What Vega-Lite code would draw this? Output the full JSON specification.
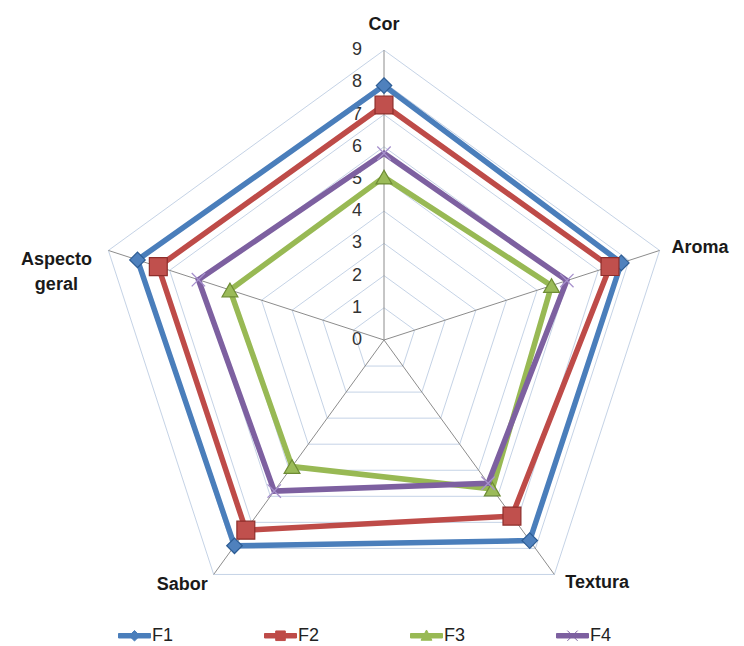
{
  "$schema": "https://vega.github.io/schema/vega-lite/v6.json",
  "width": 744,
  "height": 646,
  "padding": 0,
  "autosize": {"type": "none"},
  "background": "white",
  "config": {"view": {"stroke": null}, "font": "Liberation Sans"},
  "datasets": {
    "scores": [
      {"series": "F1", "attr": "Cor", "value": 7.9},
      {"series": "F1", "attr": "Aroma", "value": 7.75},
      {"series": "F1", "attr": "Textura", "value": 7.7},
      {"series": "F1", "attr": "Sabor", "value": 7.9},
      {"series": "F1", "attr": "Aspecto geral", "value": 8.05},
      {"series": "F2", "attr": "Cor", "value": 7.3},
      {"series": "F2", "attr": "Aroma", "value": 7.38},
      {"series": "F2", "attr": "Textura", "value": 6.76},
      {"series": "F2", "attr": "Sabor", "value": 7.3},
      {"series": "F2", "attr": "Aspecto geral", "value": 7.37},
      {"series": "F3", "attr": "Cor", "value": 5.06},
      {"series": "F3", "attr": "Aroma", "value": 5.47},
      {"series": "F3", "attr": "Textura", "value": 5.72},
      {"series": "F3", "attr": "Sabor", "value": 4.86},
      {"series": "F3", "attr": "Aspecto geral", "value": 5.03},
      {"series": "F4", "attr": "Cor", "value": 5.8},
      {"series": "F4", "attr": "Aroma", "value": 5.97},
      {"series": "F4", "attr": "Textura", "value": 5.5},
      {"series": "F4", "attr": "Sabor", "value": 5.8},
      {"series": "F4", "attr": "Aspecto geral", "value": 6.06}
    ],
    "levels": [
      {"level": 0}, {"level": 1}, {"level": 2}, {"level": 3}, {"level": 4},
      {"level": 5}, {"level": 6}, {"level": 7}, {"level": 8}, {"level": 9}
    ],
    "attrs": [
      {"attr": "Cor"}, {"attr": "Aroma"}, {"attr": "Textura"}, {"attr": "Sabor"}, {"attr": "Aspecto geral"}
    ]
  },
  "layer": [
    {
      "data": {"name": "levels"},
      "transform": [
        {"filter": "datum.level > 0"},
        {"calculate": "['Cor','Aroma','Textura','Sabor','Aspecto geral']", "as": "attrs"},
        {"flatten": ["attrs"], "as": ["attr"]},
        {"calculate": "indexof(['Cor','Aroma','Textura','Sabor','Aspecto geral'], datum.attr)", "as": "idx"},
        {"calculate": "PI/2 - datum.idx*2*PI/5", "as": "ang"},
        {"calculate": "datum.level*cos(datum.ang)", "as": "gx"},
        {"calculate": "datum.level*sin(datum.ang)", "as": "gy"}
      ],
      "mark": {"type": "line", "interpolate": "linear-closed", "stroke": "#C5D3E6", "strokeWidth": 1},
      "encoding": {
        "x": {"field": "gx", "type": "quantitative", "scale": {"domain": [-11.9255, 11.1801], "nice": false, "zero": false}, "axis": null},
        "y": {"field": "gy", "type": "quantitative", "scale": {"domain": [-9.5031, 10.559], "nice": false, "zero": false}, "axis": null},
        "detail": {"field": "level", "type": "nominal"},
        "order": {"field": "idx", "type": "quantitative"}
      }
    },
    {
      "data": {"name": "attrs"},
      "transform": [
        {"calculate": "indexof(['Cor','Aroma','Textura','Sabor','Aspecto geral'], datum.attr)", "as": "idx"},
        {"calculate": "PI/2 - datum.idx*2*PI/5", "as": "ang"},
        {"calculate": "0", "as": "cx"},
        {"calculate": "9*cos(datum.ang)", "as": "sx"},
        {"calculate": "9*sin(datum.ang)", "as": "sy"}
      ],
      "mark": {"type": "rule", "stroke": "#8C8C8C", "strokeWidth": 1},
      "encoding": {
        "x": {"field": "cx", "type": "quantitative"},
        "y": {"field": "cx", "type": "quantitative"},
        "x2": {"field": "sx"},
        "y2": {"field": "sy"}
      }
    },
    {
      "data": {"name": "levels"},
      "transform": [{"calculate": "0", "as": "cx"}],
      "mark": {"type": "text", "align": "right", "baseline": "middle", "dx": -22, "fontSize": 18, "fill": "#333333", "font": "Liberation Sans"},
      "encoding": {
        "x": {"field": "cx", "type": "quantitative"},
        "y": {"field": "level", "type": "quantitative"},
        "text": {"field": "level", "type": "nominal"}
      }
    },
    {
      "data": {"name": "scores"},
      "transform": [
        {"calculate": "indexof(['Cor','Aroma','Textura','Sabor','Aspecto geral'], datum.attr)", "as": "idx"},
        {"calculate": "PI/2 - datum.idx*2*PI/5", "as": "ang"},
        {"calculate": "datum.value*cos(datum.ang)", "as": "px"},
        {"calculate": "datum.value*sin(datum.ang)", "as": "py"}
      ],
      "mark": {"type": "line", "interpolate": "linear-closed", "strokeWidth": 5.5, "strokeJoin": "miter"},
      "encoding": {
        "x": {"field": "px", "type": "quantitative"},
        "y": {"field": "py", "type": "quantitative"},
        "color": {
          "field": "series", "type": "nominal",
          "scale": {"domain": ["F1", "F2", "F3", "F4"], "range": ["#4A7EBB", "#BE4B48", "#98B954", "#7D60A0"]},
          "legend": {
            "title": null,
            "orient": "none",
            "legendX": 118,
            "legendY": 619,
            "direction": "horizontal",
            "columns": 4,
            "columnPadding": 88,
            "symbolSize": 1024,
            "labelFontSize": 18,
            "labelFont": "Liberation Sans",
            "labelColor": "#222222",
            "labelOffset": 1,
            "labelLimit": 60,
            "encode": {
              "symbols": {
                "update": {
                  "shape": {"signal": "datum.value === 'F1' ? 'M-1,-0.14H1V0.14H-1Z M0,-0.33L0.33,0L0,0.33L-0.33,0Z' : datum.value === 'F2' ? 'M-1,-0.14H1V0.14H-1Z M-0.3,-0.3H0.3V0.3H-0.3Z' : datum.value === 'F3' ? 'M-1,-0.14H1V0.14H-1Z M0,-0.36L0.34,0.28H-0.34Z' : 'M-1,-0.14H1V0.14H-1Z M-0.32,-0.32L0.32,0.32M0.32,-0.32L-0.32,0.32'"},
                  "size": {"value": 1024},
                  "fill": {"scale": "color", "field": "value"},
                  "stroke": {"scale": "color", "field": "value"},
                  "strokeWidth": {"value": 1},
                  "opacity": {"value": 1}
                }
              }
            }
          }
        },
        "order": {"field": "idx", "type": "quantitative"}
      }
    },
    {
      "data": {"name": "scores"},
      "transform": [
        {"filter": "datum.series === 'F1'"},
        {"calculate": "indexof(['Cor','Aroma','Textura','Sabor','Aspecto geral'], datum.attr)", "as": "idx"},
        {"calculate": "PI/2 - datum.idx*2*PI/5", "as": "ang"},
        {"calculate": "datum.value*cos(datum.ang)", "as": "px"},
        {"calculate": "datum.value*sin(datum.ang)", "as": "py"}
      ],
      "mark": {"type": "point", "shape": "diamond", "size": 240, "fill": "#4F81BD", "stroke": "#2C5C94", "strokeWidth": 1.2, "opacity": 1},
      "encoding": {
        "x": {"field": "px", "type": "quantitative"},
        "y": {"field": "py", "type": "quantitative"}
      }
    },
    {
      "data": {"name": "scores"},
      "transform": [
        {"filter": "datum.series === 'F2'"},
        {"calculate": "indexof(['Cor','Aroma','Textura','Sabor','Aspecto geral'], datum.attr)", "as": "idx"},
        {"calculate": "PI/2 - datum.idx*2*PI/5", "as": "ang"},
        {"calculate": "datum.value*cos(datum.ang)", "as": "px"},
        {"calculate": "datum.value*sin(datum.ang)", "as": "py"}
      ],
      "mark": {"type": "point", "shape": "square", "size": 320, "fill": "#C0504D", "stroke": "#8E2E2B", "strokeWidth": 1.2, "opacity": 1},
      "encoding": {
        "x": {"field": "px", "type": "quantitative"},
        "y": {"field": "py", "type": "quantitative"}
      }
    },
    {
      "data": {"name": "scores"},
      "transform": [
        {"filter": "datum.series === 'F3'"},
        {"calculate": "indexof(['Cor','Aroma','Textura','Sabor','Aspecto geral'], datum.attr)", "as": "idx"},
        {"calculate": "PI/2 - datum.idx*2*PI/5", "as": "ang"},
        {"calculate": "datum.value*cos(datum.ang)", "as": "px"},
        {"calculate": "datum.value*sin(datum.ang)", "as": "py"}
      ],
      "mark": {"type": "point", "shape": "triangle-up", "size": 250, "fill": "#9BBB59", "stroke": "#6E8C35", "strokeWidth": 1.2, "opacity": 1},
      "encoding": {
        "x": {"field": "px", "type": "quantitative"},
        "y": {"field": "py", "type": "quantitative"}
      }
    },
    {
      "data": {"name": "scores"},
      "transform": [
        {"filter": "datum.series === 'F4'"},
        {"calculate": "indexof(['Cor','Aroma','Textura','Sabor','Aspecto geral'], datum.attr)", "as": "idx"},
        {"calculate": "PI/2 - datum.idx*2*PI/5", "as": "ang"},
        {"calculate": "datum.value*cos(datum.ang)", "as": "px"},
        {"calculate": "datum.value*sin(datum.ang)", "as": "py"}
      ],
      "mark": {"type": "point", "shape": "M-1,-1L1,1M1,-1L-1,1", "size": 180, "filled": false, "stroke": "#A690CC", "strokeWidth": 1.3, "opacity": 1},
      "encoding": {
        "x": {"field": "px", "type": "quantitative"},
        "y": {"field": "py", "type": "quantitative"}
      }
    },
    {
      "data": {"name": "attrs"},
      "transform": [
        {"filter": "datum.attr === 'Cor'"},
        {"calculate": "indexof(['Cor','Aroma','Textura','Sabor','Aspecto geral'], datum.attr)", "as": "idx"},
        {"calculate": "PI/2 - datum.idx*2*PI/5", "as": "ang"},
        {"calculate": "9*cos(datum.ang)", "as": "lx"},
        {"calculate": "9*sin(datum.ang)", "as": "ly"}
      ],
      "mark": {"type": "text", "align": "center", "baseline": "middle", "dy": -25, "fontSize": 18, "fontWeight": "bold", "fill": "#1A1A1A", "font": "Liberation Sans"},
      "encoding": {
        "x": {"field": "lx", "type": "quantitative"},
        "y": {"field": "ly", "type": "quantitative"},
        "text": {"field": "attr", "type": "nominal"}
      }
    },
    {
      "data": {"name": "attrs"},
      "transform": [
        {"filter": "datum.attr === 'Aroma'"},
        {"calculate": "indexof(['Cor','Aroma','Textura','Sabor','Aspecto geral'], datum.attr)", "as": "idx"},
        {"calculate": "PI/2 - datum.idx*2*PI/5", "as": "ang"},
        {"calculate": "9*cos(datum.ang)", "as": "lx"},
        {"calculate": "9*sin(datum.ang)", "as": "ly"}
      ],
      "mark": {"type": "text", "align": "left", "baseline": "middle", "dx": 12, "dy": -2, "fontSize": 18, "fontWeight": "bold", "fill": "#1A1A1A", "font": "Liberation Sans"},
      "encoding": {
        "x": {"field": "lx", "type": "quantitative"},
        "y": {"field": "ly", "type": "quantitative"},
        "text": {"field": "attr", "type": "nominal"}
      }
    },
    {
      "data": {"name": "attrs"},
      "transform": [
        {"filter": "datum.attr === 'Textura'"},
        {"calculate": "indexof(['Cor','Aroma','Textura','Sabor','Aspecto geral'], datum.attr)", "as": "idx"},
        {"calculate": "PI/2 - datum.idx*2*PI/5", "as": "ang"},
        {"calculate": "9*cos(datum.ang)", "as": "lx"},
        {"calculate": "9*sin(datum.ang)", "as": "ly"}
      ],
      "mark": {"type": "text", "align": "left", "baseline": "middle", "dx": 11, "dy": 9, "fontSize": 18, "fontWeight": "bold", "fill": "#1A1A1A", "font": "Liberation Sans"},
      "encoding": {
        "x": {"field": "lx", "type": "quantitative"},
        "y": {"field": "ly", "type": "quantitative"},
        "text": {"field": "attr", "type": "nominal"}
      }
    },
    {
      "data": {"name": "attrs"},
      "transform": [
        {"filter": "datum.attr === 'Sabor'"},
        {"calculate": "indexof(['Cor','Aroma','Textura','Sabor','Aspecto geral'], datum.attr)", "as": "idx"},
        {"calculate": "PI/2 - datum.idx*2*PI/5", "as": "ang"},
        {"calculate": "9*cos(datum.ang)", "as": "lx"},
        {"calculate": "9*sin(datum.ang)", "as": "ly"}
      ],
      "mark": {"type": "text", "align": "right", "baseline": "middle", "dx": -6, "dy": 11, "fontSize": 18, "fontWeight": "bold", "fill": "#1A1A1A", "font": "Liberation Sans"},
      "encoding": {
        "x": {"field": "lx", "type": "quantitative"},
        "y": {"field": "ly", "type": "quantitative"},
        "text": {"field": "attr", "type": "nominal"}
      }
    },
    {
      "data": {"name": "attrs"},
      "transform": [
        {"filter": "datum.attr === 'Aspecto geral'"},
        {"calculate": "indexof(['Cor','Aroma','Textura','Sabor','Aspecto geral'], datum.attr)", "as": "idx"},
        {"calculate": "PI/2 - datum.idx*2*PI/5", "as": "ang"},
        {"calculate": "9*cos(datum.ang)", "as": "lx"},
        {"calculate": "9*sin(datum.ang)", "as": "ly"}
      ],
      "mark": {"type": "text", "align": "center", "baseline": "middle", "dx": -52, "dy": 10, "lineBreak": " ", "lineHeight": 25, "fontSize": 18, "fontWeight": "bold", "fill": "#1A1A1A", "font": "Liberation Sans"},
      "encoding": {
        "x": {"field": "lx", "type": "quantitative"},
        "y": {"field": "ly", "type": "quantitative"},
        "text": {"field": "attr", "type": "nominal"}
      }
    }
  ]
}
